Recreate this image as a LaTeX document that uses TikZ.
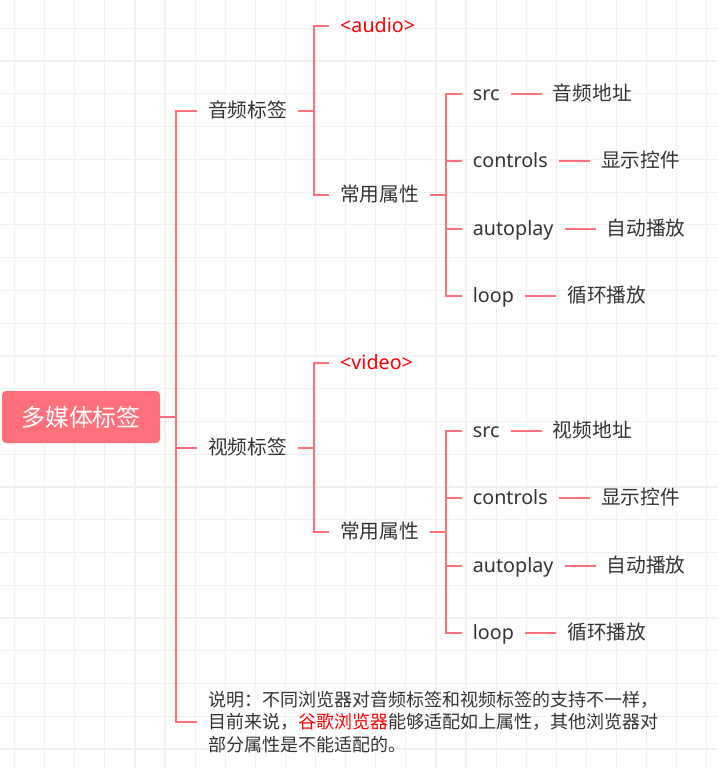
\documentclass[tikz,border=0pt]{standalone}
\usepackage{fontspec}
\setmainfont{Noto Sans}
\newfontfamily\cjk{Noto Sans CJK SC}
\usetikzlibrary{positioning}
\definecolor{linkred}{HTML}{FF707A}
\definecolor{tagred}{HTML}{FF0000}
\definecolor{ink}{HTML}{333333}
\definecolor{gridgray}{HTML}{F1F1F1}
\begin{document}
\begin{tikzpicture}[x=1pt, y=-1pt,
    gridline/.style={gridgray, line width=1.2pt},
    link/.style={linkred, line width=2.2pt},
    root/.style={fill=linkred, text=white, rounded corners=4pt, minimum width=158pt,
      minimum height=52pt, font=\cjk\fontsize{23.9}{28}\selectfont},
    item/.style={text=ink, inner xsep=11pt, inner ysep=2pt, text height=16pt, text depth=3pt,
      font=\fontsize{19.7}{23}\selectfont},
    note/.style={text=ink, inner xsep=11pt, align=left,
      font=\cjk\fontsize{18}{22.3}\selectfont},
    node distance=31pt]
    \useasboundingbox (0,0) rectangle (718,768);
    % background grid
    \foreach \i in {0,...,23}
        \draw[gridline] ({14.5+30.1*\i},0) -- ++(0,768);
    \foreach \j in {0,...,22}
        \draw[gridline] (0,{28.3+32.76*\j}) -- ++(718,0);

    \node[root] (root) at (81,417) {多媒体标签};
    \coordinate (trunk) at (176,417);

    \foreach \g/\dy/\tag/\first in {a/0/audio/音频, v/337/video/视频} {
        \node[item, anchor=west] (\g) at (197,{110.7+\dy}) {\cjk \first 标签};
        \node[item, anchor=west, text=tagred] (\g-tag) at (329,{26+\dy}) {<\tag>};
        \node[item, anchor=west] (\g-attr) at (329,{195+\dy}) {\cjk 常用属性};
        \draw[link] (root.east) -- (trunk) |- (\g.west);
        \draw[link] (\g.east) -- ++(16,0) coordinate (\g-j) |- (\g-tag.west);
        \draw[link] (\g-j) |- (\g-attr.west);
        \foreach \k/\v/\y in {src/\first 地址/94, controls/显示控件/161.3,
                              autoplay/自动播放/228.7, loop/循环播放/296} {
            \node[item, anchor=west] (\g-\k) at (461.7,{\y+\dy}) {\k};
            \node[item, right=of \g-\k] (\g-\k-val) {\cjk \v};
            \draw[link] (\g-attr.east) -- ++(16,0) |- (\g-\k.west);
            \draw[link] (\g-\k.east) -- (\g-\k-val.west);
        }
    }

    \node[note, anchor=west] (note) at (197,722)
        {说明：不同浏览器对音频标签和视频标签的支持不一样，\\
         目前来说，\textcolor{tagred}{谷歌浏览器}能够适配如上属性，其他浏览器对\\
         部分属性是不能适配的。};
    \draw[link] (trunk) |- (note.west);
\end{tikzpicture}
\end{document}
